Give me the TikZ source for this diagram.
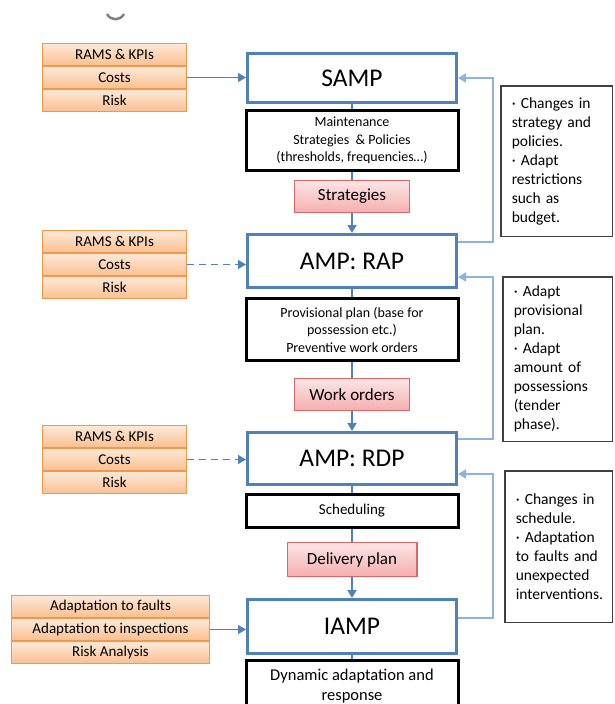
\documentclass[tikz,border=0pt]{standalone}
\usepackage{fontspec}
\setmainfont{Carlito}
\usetikzlibrary{positioning}
\usetikzlibrary{arrows.meta}

\definecolor{ampblue}{HTML}{4F81BD}
\definecolor{backblue}{HTML}{8DB3E2}
\definecolor{orangeline}{HTML}{F79646}
\definecolor{orangetop}{HTML}{FDE9D9}
\definecolor{orangebot}{HTML}{FAC090}
\definecolor{pinkline}{HTML}{E06666}
\definecolor{pinktop}{HTML}{FDE5E5}
\definecolor{pinkbot}{HTML}{F4AFAF}
\definecolor{noteline}{HTML}{404040}

\begin{document}
\begin{tikzpicture}
  [x=1pt, y=-1pt,
   level/.style={rectangle, draw=ampblue, line width=3pt, minimum width=209pt, font=\fontsize{25.5}{30}\selectfont},
   task/.style={rectangle, draw=black, line width=3pt, minimum width=212pt, align=center, font=\fontsize{14}{17.5}\selectfont},
   output/.style={rectangle, draw=pinkline, line width=1.2pt, top color=pinktop, bottom color=pinkbot, minimum width=114.8pt, minimum height=31.8pt, font=\fontsize{17}{20}\selectfont},
   input/.style={rectangle, draw=orangeline, line width=1pt, top color=orangetop, bottom color=orangebot, minimum width=144pt, minimum height=22pt, inner sep=0pt, font=\fontsize{15}{18}\selectfont},
   note/.style={rectangle, draw=noteline, line width=1.5pt, align=left, inner xsep=11pt, font=\fontsize{15.5}{19}\selectfont},
   flow/.style={draw=ampblue, line width=2.5pt},
   inflow/.style={draw=ampblue, line width=1.5pt},
   feed/.style={draw=backblue, line width=1.8pt, ->},
   >={Triangle[length=8pt,width=9pt]}]
  \useasboundingbox (0,0) rectangle (615,704);
  \clip (0,0) rectangle (615,704);

  % main column
  \node (samp) [level, minimum height=49pt] at (352,78) {SAMP};
  \node (maint) [task, below=5pt of samp, minimum height=60pt] {Maintenance\\Strategies\ \ \& Policies\\(thresholds, frequencies…)};
  \node (strat) [output, below=8pt of maint] {Strategies};
  \node (rap) [level, below=20pt of strat, minimum height=53pt] {AMP: RAP};
  \node (prov) [task, below=8pt of rap, minimum height=62pt] {Provisional plan (base for\\possession etc.)\\Preventive work orders};
  \node (work) [output, below=16pt of prov] {Work orders};
  \node (rdp) [level, below=20pt of work, minimum height=52pt] {AMP: RDP};
  \node (sched) [task, below=7pt of rdp, minimum height=33pt, font=\fontsize{15}{18}\selectfont] {Scheduling};
  \node (deliv) [output, below=13pt of sched, minimum width=129.8pt, minimum height=33.8pt] {Delivery plan};
  \node (iamp) [level, below=21pt of deliv, minimum height=54pt] {IAMP};
  \node (dyn) [task, below=4pt of iamp, minimum height=52pt, font=\fontsize{16.5}{20}\selectfont] {Dynamic adaptation and\\response};

  % inputs
  \node (rams1) [input] at (114.5,54.5) {RAMS \& KPIs};
  \node (costs1) [input, below=0pt of rams1] {Costs};
  \node (risk1) [input, below=0pt of costs1] {Risk};
  \node (rams2) [input] at (114.5,241.5) {RAMS \& KPIs};
  \node (costs2) [input, below=0pt of rams2] {Costs};
  \node (risk2) [input, below=0pt of costs2] {Risk};
  \node (rams3) [input] at (114.5,436.5) {RAMS \& KPIs};
  \node (costs3) [input, below=0pt of rams3] {Costs};
  \node (risk3) [input, below=0pt of costs3] {Risk};
  \node (faults4) [input, minimum width=198pt] at (110.5,606.5) {Adaptation to faults};
  \node (insp4) [input, minimum width=198pt, below=0pt of faults4] {Adaptation to inspections};
  \node (analysis4) [input, minimum width=198pt, below=0pt of insp4] {Risk Analysis};

  % notes
  \node (note1) [note, text width=89.5pt, minimum height=150.5pt] at (556.5,161) {· Changes in\\strategy and\\policies.\\· Adapt\\restrictions\\such as\\budget.};
  \node (note2) [note, text width=87.5pt, minimum height=164.5pt] at (557.5,359) {· Adapt\\provisional\\plan.\\· Adapt\\amount of\\possessions\\(tender\\phase).};
  \node (note3) [note, text width=85.5pt, minimum height=151.5pt] at (558.5,546.5) {· Changes in\\schedule.\\· Adaptation\\to faults and\\unexpected\\interventions.};

  \draw[flow] (samp) -- (maint);
  \draw[flow] (maint) -- (strat);
  \draw[flow, ->] (strat) -- (rap);
  \draw[flow] (rap) -- (prov);
  \draw[flow] (prov) -- (work);
  \draw[flow, ->] (work) -- (rdp);
  \draw[flow] (rdp) -- (sched);
  \draw[flow] (sched) -- (deliv);
  \draw[flow, ->] (deliv) -- (iamp);
  \draw[flow] (iamp) -- (dyn);

  \draw[inflow, ->] (costs1.east) -- (costs1.east -| samp.west);
  \draw[inflow, ->, dash pattern=on 7pt off 5pt] (costs2.east) -- (costs2.east -| rap.west);
  \draw[inflow, ->, dash pattern=on 7pt off 5pt] (costs3.east) -- (costs3.east -| rdp.west);
  \draw[inflow, ->] (insp4.east) -- (insp4.east -| iamp.west);

  \draw[feed] ([yshift=-9pt]rap.north east) -- ++(35,0) |- (samp.east);
  \draw[feed] ([yshift=-8pt]rdp.north east) -- ++(35,0) |- ([yshift=-16pt]rap.east);
  \draw[feed] ([yshift=-20pt]iamp.north east) -- ++(35,0) |- ([yshift=-15.5pt]rdp.east);

  \draw[gray, line width=2.5pt] (107,14) .. controls (111,21) and (120,21) .. (124,14);
\end{tikzpicture}
\end{document}
